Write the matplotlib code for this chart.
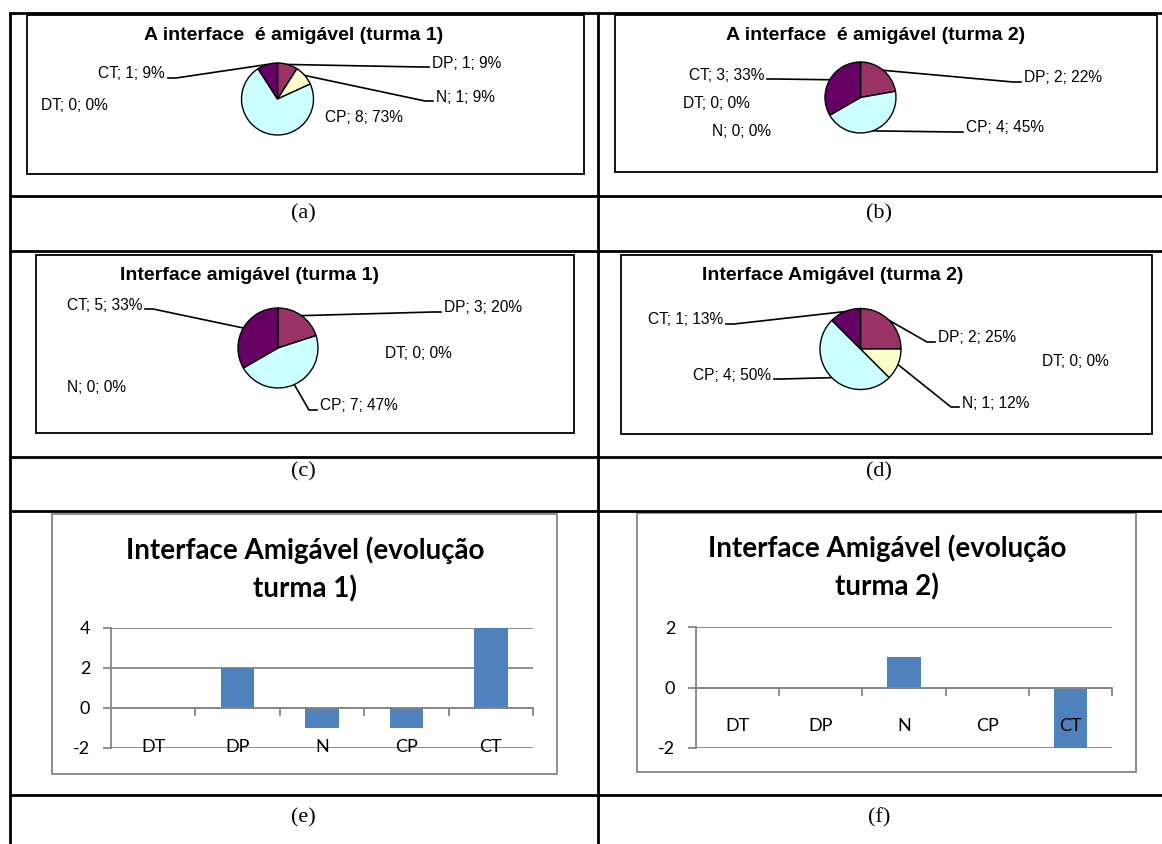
import matplotlib
matplotlib.use("Agg")
import matplotlib.pyplot as plt
import numpy as np
from matplotlib.patches import Rectangle

# ---------------- data ----------------
categories = ['DT', 'DP', 'N', 'CP', 'CT']

a_counts = [0, 1, 1, 8, 1]
a_pct = [0, 9, 9, 73, 9]
b_counts = [0, 2, 0, 4, 3]
b_pct = [0, 22, 0, 45, 33]
c_counts = [0, 3, 0, 7, 5]
c_pct = [0, 20, 0, 47, 33]
d_counts = [0, 2, 1, 4, 1]
d_pct = [0, 25, 12, 50, 13]

e_diff = [0, 2, -1, -1, 4]
f_diff = [0, 0, 1, 0, -2]

title_a = "A interface  é amigável (turma 1)"
title_b = "A interface  é amigável (turma 2)"
title_c = "Interface amigável (turma 1)"
title_d = "Interface Amigável (turma 2)"
title_e = "Interface Amigável (evolução\nturma 1)"
title_f = "Interface Amigável (evolução\nturma 2)"
panel_letters = ['(a)', '(b)', '(c)', '(d)', '(e)', '(f)']

pie_colors = ['#9999FF', '#993366', '#FFFFCC', '#CCFFFF', '#660066']
bar_color = '#4F81BD'
grey = '#868686'

# ---------------- figure ----------------
W, H = 1162, 844
fig = plt.figure(figsize=(W / 100, H / 100), dpi=100)


def rect(x0, y0, x1, y1):
    return [x0 / W, 1 - y1 / H, (x1 - x0) / W, (y1 - y0) / H]


bg = fig.add_axes([0, 0, 1, 1], zorder=0)
bg.set_xlim(0, W)
bg.set_ylim(H, 0)
bg.axis('off')

# table grid
tlw = 2.0
for y in [12.5, 196, 251, 457, 511, 795]:
    bg.plot([9, W], [y, y], color='black', lw=tlw, solid_capstyle='butt')
for x in [10, 598]:
    bg.plot([x, x], [12, H], color='black', lw=tlw, solid_capstyle='butt')

letter_pos = [(303, 214), (879, 214), (303, 472), (879, 472), (303, 818), (879, 818)]
for lt, (x, y) in zip(panel_letters, letter_pos):
    bg.text(x, y, lt, ha='center', va='center', fontsize=16,
            family='Liberation Serif')

PIE_FONT = 'Liberation Sans'


def draw_pie(box, cx, cy, r, counts, pct, title, tx, ty, labels):
    bg.add_patch(Rectangle((box[0], box[1]), box[2] - box[0], box[3] - box[1],
                           fill=False, ec='black', lw=1.3, zorder=1))
    ax = fig.add_axes(rect(cx - r, cy - r, cx + r, cy + r), zorder=2)
    wedges, _ = ax.pie(counts, colors=pie_colors, startangle=90, counterclock=False,
                       wedgeprops=dict(edgecolor='black', linewidth=1.0, clip_on=False))
    ax.set_xlim(-1, 1)
    ax.set_ylim(-1, 1)
    ax.set_aspect('auto')
    ax.axis('off')
    bg.text(tx, ty, title, ha='center', va='center', fontsize=14,
            fontweight='bold', family=PIE_FONT)
    to_bg = ax.transData + bg.transData.inverted()
    for i, (cat, n, p) in enumerate(zip(categories, counts, pct)):
        lx, ly, ha, leader = labels[cat]
        bg.text(lx, ly, f"{cat}; {n}; {p}%", ha=ha, va='center',
                fontsize=11.2, family=PIE_FONT)
        if leader:
            w = wedges[i]
            th = np.deg2rad(0.5 * (w.theta1 + w.theta2))
            ex, ey = to_bg.transform((np.cos(th), np.sin(th)))
            sgn = -1 if ha == 'left' else 1
            ax0 = lx + sgn * 3
            ay0 = ly + 4
            ax1 = ax0 + sgn * 8
            bg.plot([ax0, ax1, ex], [ay0, ay0, ey], color='black', lw=1.2, zorder=3)


draw_pie((27, 15, 584, 174), 277.5, 99, 36, a_counts, a_pct, title_a, 294, 35,
         {'DT': (41, 105, 'left', False), 'DP': (432, 63, 'left', True),
          'N': (436, 97, 'left', True), 'CP': (325, 118, 'left', False),
          'CT': (165, 74, 'right', True)})
draw_pie((615, 15, 1157, 172), 860.5, 97.5, 35.5, b_counts, b_pct, title_b, 876, 35,
         {'DT': (683, 103, 'left', False), 'DP': (1024, 78, 'left', True),
          'N': (712, 131, 'left', False), 'CP': (966, 128, 'left', True),
          'CT': (764, 75, 'right', True)})
draw_pie((36, 255, 574, 433), 278, 348, 40, c_counts, c_pct, title_c, 249.5, 275,
         {'DT': (385, 353, 'left', False), 'DP': (444, 308, 'left', True),
          'N': (67, 387, 'left', False), 'CP': (320, 406, 'left', True),
          'CT': (142, 305, 'right', True)})
draw_pie((621, 255, 1152, 434), 860.5, 349, 40.5, d_counts, d_pct, title_d, 833, 275,
         {'DT': (1042, 362, 'left', False), 'DP': (938, 338, 'left', True),
          'N': (962, 403, 'left', True), 'CP': (771, 375, 'right', True),
          'CT': (723, 320, 'right', True)})

BAR_FONT = 'Lato'


def draw_bar(box, plot, vals, ylim, yticks, title, tx, ty):
    bg.add_patch(Rectangle((box[0], box[1]), box[2] - box[0], box[3] - box[1],
                           fill=False, ec=grey, lw=1.3, zorder=1))
    bg.text(tx, ty, title, ha='center', va='top', fontsize=20, fontweight='bold',
            family=BAR_FONT, linespacing=1.55)
    ax = fig.add_axes(rect(*plot), zorder=2)
    ax.patch.set_alpha(0)
    x = np.arange(len(categories))
    for t in yticks:
        ax.axhline(t, color=grey, lw=1.3, zorder=0.5)
    ax.bar(x, vals, width=0.4, color=bar_color, zorder=1)
    ax.set_xlim(-0.5, len(categories) - 0.5)
    ax.set_ylim(*ylim)
    ax.set_yticks(yticks)
    ax.set_yticklabels([str(t) for t in yticks])
    ax.set_xticks(x)
    ax.set_xticklabels(categories)
    ax.set_xticks(np.arange(len(categories)) + 0.5, minor=True)
    for s in ['top', 'right']:
        ax.spines[s].set_visible(False)
    ax.spines['left'].set_color(grey)
    ax.spines['left'].set_linewidth(1.3)
    ax.spines['bottom'].set_position(('data', 0))
    ax.spines['bottom'].set_color(grey)
    ax.spines['bottom'].set_linewidth(1.3)
    ax.tick_params(axis='both', which='both', labelsize=13, labelfontfamily=BAR_FONT)
    ax.tick_params(axis='y', direction='out', length=6, width=1.3, color=grey, pad=9)
    ax.tick_params(axis='x', which='major', length=0, pad=22)
    ax.tick_params(axis='x', which='minor', direction='out', length=6, width=1.3, color=grey)


draw_bar((52, 514, 557, 774), (111, 628, 533, 748), e_diff, (-2, 4), [-2, 0, 2, 4],
         title_e, 305, 536)
draw_bar((637, 513, 1136, 772), (696, 627, 1112, 748), f_diff, (-2, 2), [-2, 0, 2],
         title_f, 887, 534)

fig.savefig('out.png', dpi=100)
